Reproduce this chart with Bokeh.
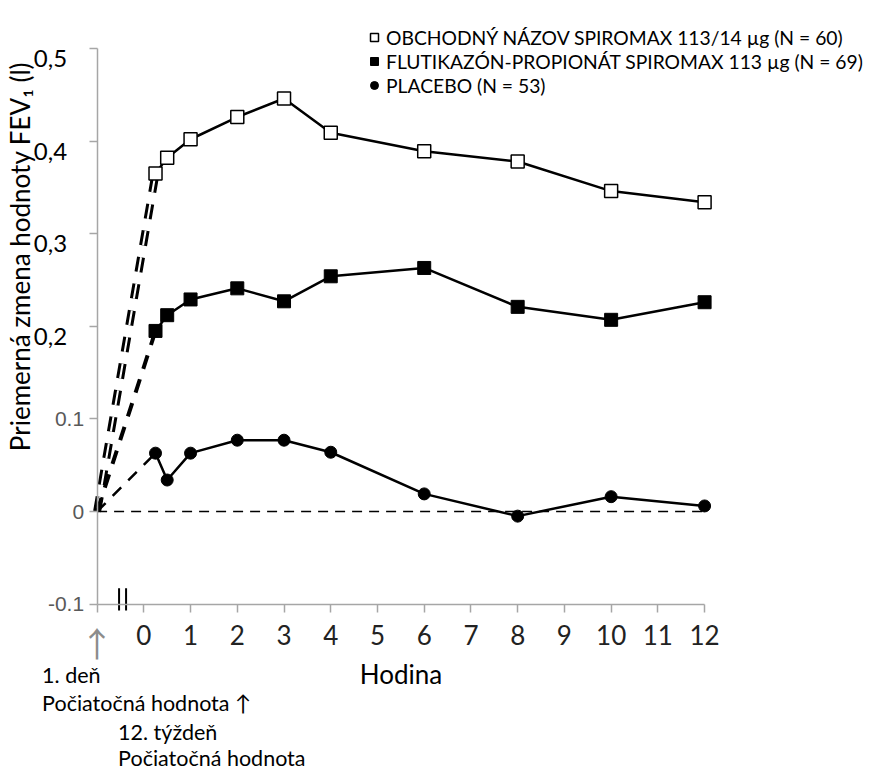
from bokeh.plotting import figure
from bokeh.models import ColumnDataSource, FixedTicker, Label, Legend, LegendItem, LinearAxis
from bokeh.embed import file_html
from bokeh.resources import INLINE

# ---- data ----
hours = [0.25, 0.5, 1, 2, 3, 4, 6, 8, 10, 12]
combo = [0.365, 0.382, 0.402, 0.426, 0.446, 0.409, 0.389, 0.378, 0.346, 0.334]
fluti = [0.195, 0.212, 0.229, 0.241, 0.227, 0.254, 0.263, 0.221, 0.207, 0.226]
placebo = [0.063, 0.034, 0.063, 0.077, 0.077, 0.064, 0.019, -0.005, 0.016, 0.006]
baseline_hour = -1
baseline_value = 0.0
series_names = [
    "OBCHODNÝ NÁZOV SPIROMAX 113/14 µg (N = 60)",
    "FLUTIKAZÓN-PROPIONÁT SPIROMAX 113 µg (N = 69)",
    "PLACEBO (N = 53)",
]
x_ticks = [0, 1, 2, 3, 4, 5, 6, 7, 8, 9, 10, 11, 12]
x_tick_labels = ["0", "1", "2", "3", "4", "5", "6", "7", "8", "9", "10", "11", "12"]
baseline_tick_label = "↑"
y_ticks_low = [-0.1, 0, 0.1]
y_labels_low = ["-0.1", "0", "0.1"]
y_ticks_high = [0.2, 0.3, 0.4, 0.5]
y_labels_high = ["0,2", "0,3", "0,4", "0,5"]
break_hours = [-0.53, -0.38]
x_title = "Hodina"
y_title = "Priemerná zmena hodnoty FEV₁ (l)"
notes = ["1. deň", "Počiatočná hodnota ↑", "12. týždeň", "Počiatočná hodnota"]

FONT = "Lato"
AX = "#a6a6a6"
y_all = y_ticks_low + y_ticks_high
y_lo, y_hi = y_all[0], y_all[-1]

# canvas, axes frame: x=-1 at 96.6px, 46.73 px/hour; y=0 at 511px, 926 px/unit
W, H = 882, 773
XPX, YPX = 46.73, 926.0
x_range = (baseline_hour - 96.6 / XPX, baseline_hour + (W - 96.6) / XPX)
y_range = ((511 - H) / YPX, 511 / YPX)
label_drop = 10 / YPX  # upper y labels sit ~10px below their ticks in the original

p = figure(width=W, height=H, x_range=x_range, y_range=y_range,
           output_backend="svg", toolbar_location=None,
           x_axis_location=None, y_axis_location=None,
           min_border=0, min_border_left=0, min_border_right=0,
           min_border_top=0, min_border_bottom=0)
p.title.visible = False
p.outline_line_color = None
p.grid.visible = False
p.background_fill_color = "white"

# x axis at y = -0.1
xa = LinearAxis(fixed_location=y_lo, bounds=(baseline_hour, hours[-1]),
                ticker=FixedTicker(ticks=[baseline_hour] + x_ticks),
                major_label_overrides={baseline_hour: "", **dict(zip(x_ticks, x_tick_labels))})
# the grey arrow under the baseline tick
xa_arrow = LinearAxis(fixed_location=y_lo, ticker=FixedTicker(ticks=[baseline_hour]),
                      major_label_overrides={baseline_hour: baseline_tick_label})
# y axis (ticks + lower labels)
ya = LinearAxis(fixed_location=baseline_hour, bounds=(y_lo, y_hi),
                ticker=FixedTicker(ticks=y_all),
                major_label_overrides={**dict(zip(y_ticks_low, y_labels_low)),
                                       **{t: "" for t in y_ticks_high}})
# upper y labels (comma style)
hi_pos = [t - label_drop for t in y_ticks_high]
ya2 = LinearAxis(fixed_location=baseline_hour, ticker=FixedTicker(ticks=hi_pos),
                 major_label_overrides=dict(zip(hi_pos, y_labels_high)))

for ax in (xa, xa_arrow, ya, ya2):
    ax.axis_line_color = AX
    ax.axis_line_width = 1.5
    ax.major_tick_line_color = AX
    ax.major_tick_line_width = 1.5
    ax.major_tick_out = 8
    ax.major_tick_in = 0
    ax.minor_tick_out = 0
    ax.minor_tick_in = 0
    ax.major_label_text_font = FONT
    ax.major_label_text_color = "#222222"
for ax in (ya2, xa_arrow):
    ax.axis_line_color = None
    ax.major_tick_line_color = None
ya2.major_label_text_font_size = "24px"
ya2.major_label_text_color = "black"
ya2.major_label_standoff = 22

xa_arrow.major_label_text_font = "Noto Sans CJK JP"
xa_arrow.major_label_text_font_size = "34px"
xa_arrow.major_label_text_color = "#8c8c8c"
xa_arrow.major_label_standoff = 6

ya.major_label_text_font = "Liberation Sans"
ya.major_label_text_font_size = "21px"
ya.major_label_text_color = "#595959"
ya.major_label_standoff = 5

xa.major_label_text_font_size = "26px"
xa.major_label_standoff = 13
xa.axis_label = x_title
xa.axis_label_text_font = FONT
xa.axis_label_text_font_size = "26px"
xa.axis_label_text_font_style = "normal"
xa.axis_label_text_color = "black"
xa.axis_label_standoff = 9

p.add_layout(xa, "below")
p.add_layout(xa_arrow, "below")
p.add_layout(ya, "left")
p.add_layout(ya2, "left")

# connectors from baseline
conn = ColumnDataSource(dict(hour=[baseline_hour, hours[0]],
                             combo=[baseline_value, combo[0]],
                             fluti=[baseline_value, fluti[0]],
                             placebo=[baseline_value, placebo[0]]))
p.line("hour", "combo", source=conn, line_color="black", line_width=8, line_dash="15 12")
p.line("hour", "combo", source=conn, line_color="white", line_width=2, line_dash="15 12")
p.line("hour", "fluti", source=conn, line_color="black", line_width=4, line_dash="14 11")
p.line("hour", "placebo", source=conn, line_color="black", line_width=2.5, line_dash="12 10")

# zero reference line
p.line([baseline_hour, hours[-1]], [baseline_value, baseline_value],
       line_color="black", line_width=1.5, line_dash="10 7")

# axis break marks
p.segment(x0=break_hours, y0=[y_lo + 0.017] * 2, x1=break_hours, y1=[y_lo - 0.007] * 2,
          line_color="black", line_width=2)

src = ColumnDataSource(dict(hour=hours, combo=combo, fluti=fluti, placebo=placebo))
for col in ("combo", "fluti", "placebo"):
    p.line("hour", col, source=src, line_color="black", line_width=2.5)
r_combo = p.scatter("hour", "combo", source=src, marker="square", size=13,
                    fill_color="white", line_color="black", line_width=1.5)
r_fluti = p.scatter("hour", "fluti", source=src, marker="square", size=13,
                    fill_color="black", line_color="black")
r_plac = p.scatter("hour", "placebo", source=src, marker="circle", size=12,
                   fill_color="black", line_color="black")

legend = Legend(items=[LegendItem(label=series_names[0], renderers=[r_combo]),
                       LegendItem(label=series_names[1], renderers=[r_fluti]),
                       LegendItem(label=series_names[2], renderers=[r_plac])],
                location=(364, H - 97), orientation="vertical",
                border_line_color=None, background_fill_alpha=0,
                label_text_font=FONT, label_text_font_size="19.3px", label_text_color="black",
                glyph_width=20, glyph_height=24, label_height=24, label_standoff=2,
                spacing=0, padding=0, margin=0)
p.add_layout(legend, "center")

p.add_layout(Label(x=baseline_hour, y=y_hi, x_offset=-77, y_offset=-208, text=y_title,
                   angle=90, angle_units="deg", text_align="center", text_baseline="middle",
                   text_font=FONT, text_font_size="26px", text_color="black"))

note_pos = [(-55, -71), (-55, -99), (21, -128), (21, -154)]
for t, (dx, dy) in zip(notes, note_pos):
    p.add_layout(Label(x=baseline_hour, y=y_lo, x_offset=dx, y_offset=dy, text=t,
                       text_align="left", text_baseline="middle",
                       text_font=FONT, text_font_size="21.5px", text_color="black"))

open("out.html", "w").write(file_html(p, INLINE))
